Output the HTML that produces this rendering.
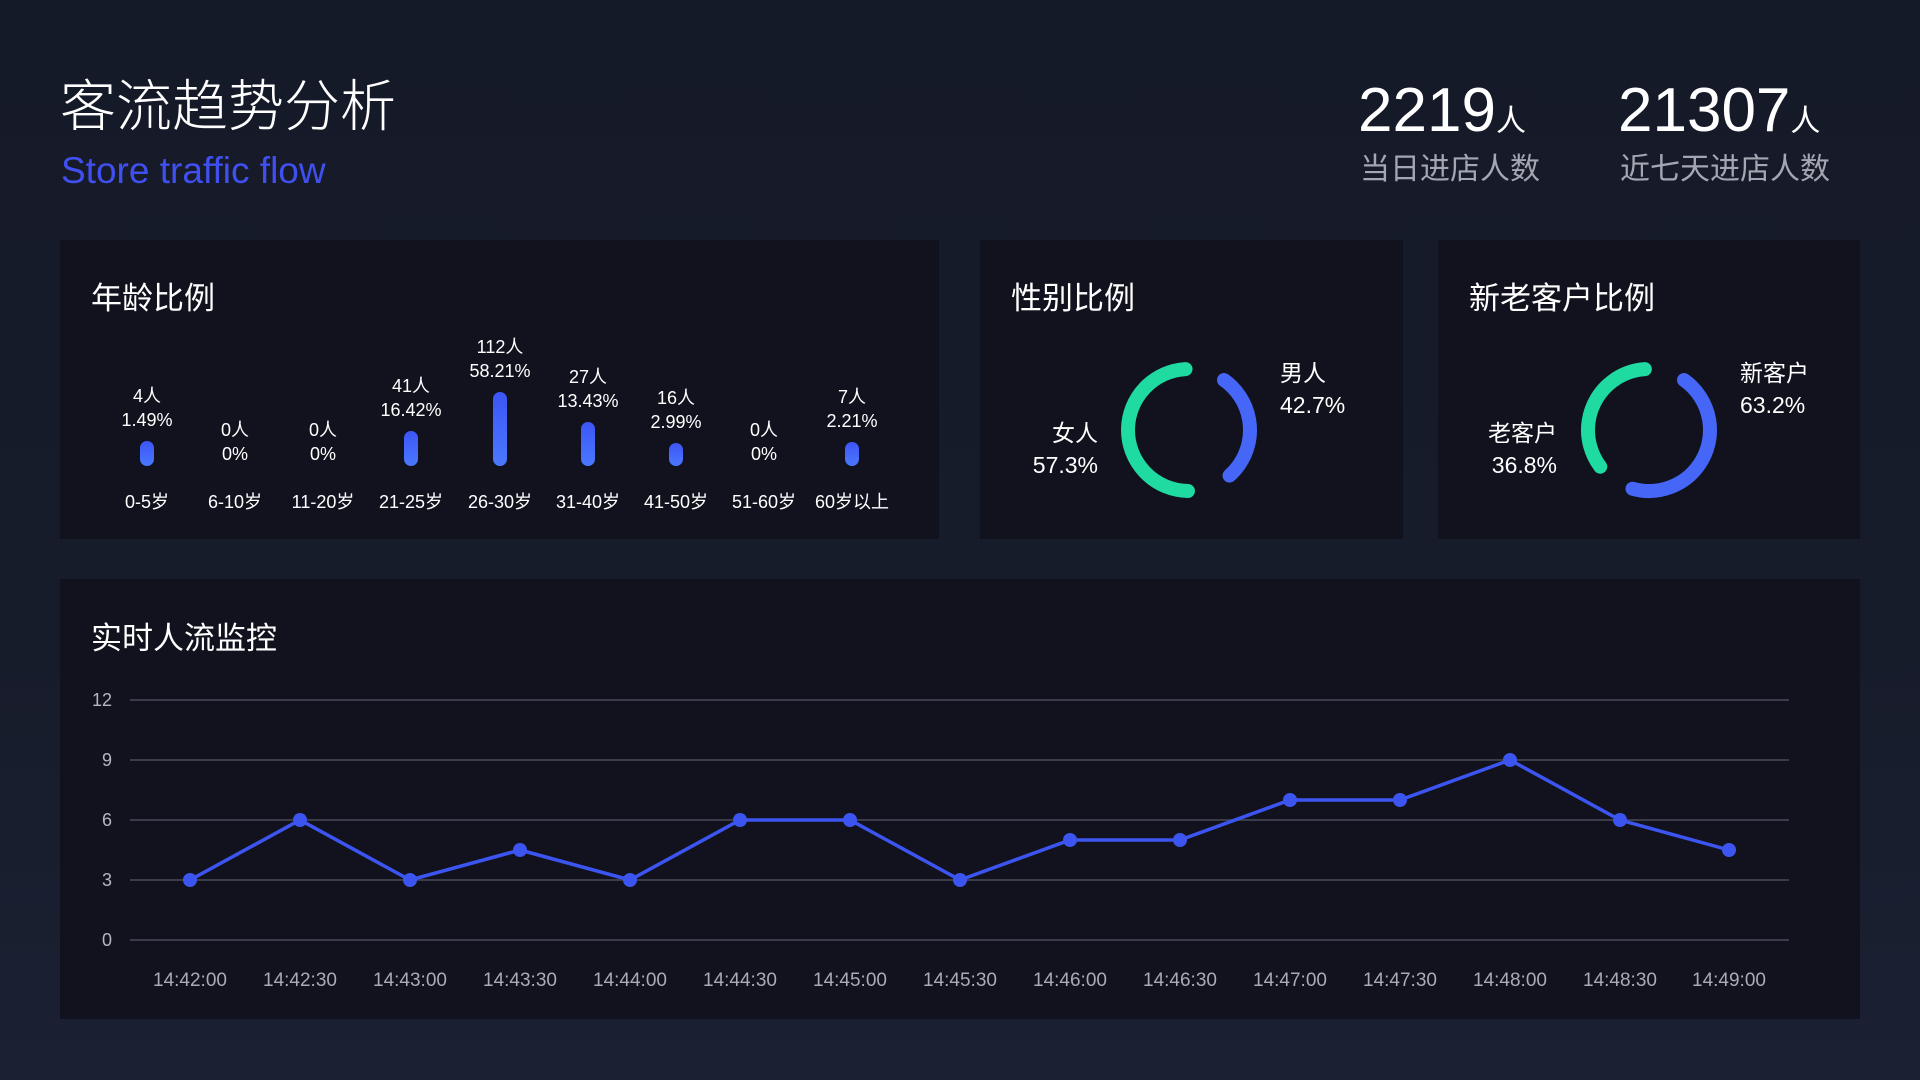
<!DOCTYPE html>
<html><head><meta charset="utf-8"><style>
*{margin:0;padding:0;box-sizing:border-box}
body{width:1920px;height:1080px;overflow:hidden;background:linear-gradient(180deg,#151a28 0%,#171c2b 60%,#1b2133 100%);font-family:"Liberation Sans","Noto Sans CJK SC",sans-serif;color:#fff;position:relative}
.a{position:absolute;white-space:nowrap}
.panel{position:absolute;background:#11121e}
.pt{position:absolute;font-size:31px;color:#fff;font-family:"Noto Sans CJK SC",sans-serif;line-height:40px}
.lbl{position:absolute;font-size:18px;text-align:center;width:100px;line-height:24px;color:#fff}
.bar{position:absolute;width:14px;border-radius:7px;background:linear-gradient(180deg,#3d55f5,#4a78ff)}
.xl{position:absolute;font-size:18px;color:#fff;width:100px;text-align:center;top:488px}
</style></head><body>
<div class="a" style="left:60px;top:72px;font-size:56px;line-height:70px;font-weight:300">客流趋势分析</div>
<div class="a" style="left:61px;top:148px;font-size:37px;line-height:46px;color:#4050f0">Store traffic flow</div>

<div class="a" style="left:1358px;top:76px;font-size:62px;line-height:70px">2219<span style="font-size:30px">人</span></div>
<div class="a" style="left:1360px;top:144px;font-size:30px;color:#a4a7b2">当日进店人数</div>
<div class="a" style="left:1618px;top:76px;font-size:62px;line-height:70px">21307<span style="font-size:30px">人</span></div>
<div class="a" style="left:1620px;top:144px;font-size:30px;color:#a4a7b2">近七天进店人数</div>

<div class="panel" style="left:60px;top:240px;width:879px;height:299px"></div>
<div class="panel" style="left:980px;top:240px;width:423px;height:299px"></div>
<div class="panel" style="left:1438px;top:240px;width:422px;height:299px"></div>
<div class="panel" style="left:60px;top:579px;width:1800px;height:440px"></div>

<div class="pt" style="left:91px;top:276px">年龄比例</div>
<div class="pt" style="left:1011px;top:276px">性别比例</div>
<div class="pt" style="left:1469px;top:276px">新老客户比例</div>
<div class="pt" style="left:91px;top:616px">实时人流监控</div>

<!-- age -->
<div class="lbl" style="left:97px;top:384px">4人<br>1.49%</div><div class="bar" style="left:140px;top:441px;height:25px"></div><div class="xl" style="left:97px">0-5岁</div>
<div class="lbl" style="left:185px;top:418px">0人<br>0%</div><div class="xl" style="left:185px">6-10岁</div>
<div class="lbl" style="left:273px;top:418px">0人<br>0%</div><div class="xl" style="left:273px">11-20岁</div>
<div class="lbl" style="left:361px;top:374px">41人<br>16.42%</div><div class="bar" style="left:404px;top:431px;height:35px"></div><div class="xl" style="left:361px">21-25岁</div>
<div class="lbl" style="left:450px;top:335px">112人<br>58.21%</div><div class="bar" style="left:493px;top:392px;height:74px"></div><div class="xl" style="left:450px">26-30岁</div>
<div class="lbl" style="left:538px;top:365px">27人<br>13.43%</div><div class="bar" style="left:581px;top:422px;height:44px"></div><div class="xl" style="left:538px">31-40岁</div>
<div class="lbl" style="left:626px;top:386px">16人<br>2.99%</div><div class="bar" style="left:669px;top:443px;height:23px"></div><div class="xl" style="left:626px">41-50岁</div>
<div class="lbl" style="left:714px;top:418px">0人<br>0%</div><div class="xl" style="left:714px">51-60岁</div>
<div class="lbl" style="left:802px;top:385px">7人<br>2.21%</div><div class="bar" style="left:845px;top:442px;height:24px"></div><div class="xl" style="left:802px">60岁以上</div>

<svg class="a" style="left:0;top:0" width="1920" height="1080">
<g fill="none" stroke-width="14" stroke-linecap="round">
<circle cx="1189" cy="430" r="61" stroke="#1fdba2" stroke-dasharray="187 400" transform="rotate(91 1189 430)"/>
<circle cx="1189" cy="430" r="61" stroke="#4566f6" stroke-dasharray="110 400" transform="rotate(-55 1189 430)"/>
<circle cx="1649" cy="430" r="61" stroke="#1fdba2" stroke-dasharray="131 400" transform="rotate(143 1649 430)"/>
<circle cx="1649" cy="430" r="61" stroke="#4566f6" stroke-dasharray="171 400" transform="rotate(-55 1649 430)"/>
</g>
<g stroke="#3a3c4a" stroke-width="2">
<line x1="130" x2="1789" y1="700" y2="700"/><line x1="130" x2="1789" y1="760" y2="760"/><line x1="130" x2="1789" y1="820" y2="820"/><line x1="130" x2="1789" y1="880" y2="880"/><line x1="130" x2="1789" y1="940" y2="940"/>
</g>
<g font-size="18" fill="#b4b6c0" font-family="Liberation Sans,sans-serif" text-anchor="end">
<text x="112" y="706">12</text><text x="112" y="766">9</text><text x="112" y="826">6</text><text x="112" y="886">3</text><text x="112" y="946">0</text>
</g>
<polyline fill="none" stroke="#3d55f0" stroke-width="3.5" points="190,880 300,820 410,880 520,850 630,880 740,820 850,820 960,880 1070,840 1180,840 1290,800 1400,800 1510,760 1620,820 1729,850"/>
<g fill="#3d55f0">
<circle cx="190" cy="880" r="7"/><circle cx="300" cy="820" r="7"/><circle cx="410" cy="880" r="7"/><circle cx="520" cy="850" r="7"/><circle cx="630" cy="880" r="7"/><circle cx="740" cy="820" r="7"/><circle cx="850" cy="820" r="7"/><circle cx="960" cy="880" r="7"/><circle cx="1070" cy="840" r="7"/><circle cx="1180" cy="840" r="7"/><circle cx="1290" cy="800" r="7"/><circle cx="1400" cy="800" r="7"/><circle cx="1510" cy="760" r="7"/><circle cx="1620" cy="820" r="7"/><circle cx="1729" cy="850" r="7"/>
</g>
<g font-size="19" fill="#a9abb6" font-family="Liberation Sans,sans-serif" text-anchor="middle">
<text x="190" y="986">14:42:00</text><text x="300" y="986">14:42:30</text><text x="410" y="986">14:43:00</text><text x="520" y="986">14:43:30</text><text x="630" y="986">14:44:00</text><text x="740" y="986">14:44:30</text><text x="850" y="986">14:45:00</text><text x="960" y="986">14:45:30</text><text x="1070" y="986">14:46:00</text><text x="1180" y="986">14:46:30</text><text x="1290" y="986">14:47:00</text><text x="1400" y="986">14:47:30</text><text x="1510" y="986">14:48:00</text><text x="1620" y="986">14:48:30</text><text x="1729" y="986">14:49:00</text>
</g>
</svg>

<div class="a" style="left:1280px;top:357px;font-size:23px;line-height:32px">男人<br>42.7%</div>
<div class="a" style="left:1000px;top:417px;width:98px;text-align:right;font-size:23px;line-height:32px">女人<br>57.3%</div>
<div class="a" style="left:1740px;top:357px;font-size:23px;line-height:32px">新客户<br>63.2%</div>
<div class="a" style="left:1460px;top:417px;width:97px;text-align:right;font-size:23px;line-height:32px">老客户<br>36.8%</div>
</body></html>
